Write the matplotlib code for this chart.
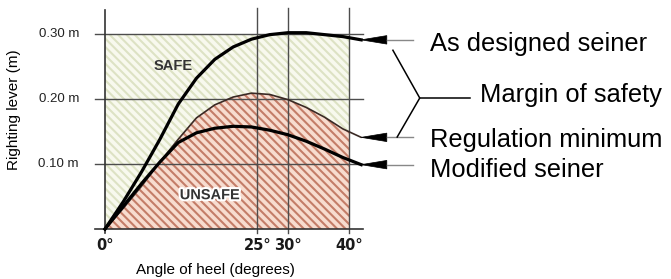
import matplotlib
matplotlib.use('Agg')
import matplotlib.pyplot as plt
import matplotlib.patheffects as pe
from matplotlib.patches import Rectangle, Polygon

plt.rcParams['font.family'] = ['Liberation Sans', 'DejaVu Sans']
plt.rcParams['hatch.linewidth'] = 1.5

# heel angle (degrees) and righting lever (m)
angles = [0, 3, 6, 9, 12, 15, 18, 21, 24, 27, 30, 33, 36, 39, 42]
as_designed = [0, 0.042, 0.088, 0.138, 0.192, 0.232, 0.261, 0.280, 0.292, 0.299, 0.302, 0.302, 0.299, 0.296, 0.291]
regulation = [0, 0.032, 0.066, 0.103, 0.138, 0.171, 0.191, 0.203, 0.209, 0.207, 0.199, 0.187, 0.172, 0.154, 0.141]
modified = [0, 0.035, 0.070, 0.103, 0.133, 0.148, 0.155, 0.158, 0.157, 0.152, 0.145, 0.135, 0.123, 0.110, 0.099]

x_ticks = [0, 25, 30, 40]
x_tick_labels = ['0°', '25°', '30°', '40°']
y_ticks = [0.10, 0.20, 0.30]
y_tick_labels = ['0.10 m', '0.20 m', '0.30 m']
series_labels = ['As designed seiner', 'Regulation minimum', 'Modified seiner']

fig = plt.figure(figsize=(6.71, 2.79), dpi=100)
ax = fig.add_axes([0, 0, 1, 1])
ax.set_xlim(-17.21, 92.79)
ax.set_ylim(-0.0769, 0.3523)
ax.axis('off')

grid_c = '#4d4d4d'

# safe zone (green hatch) and unsafe zone (red hatch)
ax.add_patch(Rectangle((0, 0), 40, 0.30, facecolor='#f8f9ee', edgecolor='#dde2c4',
                       hatch='\\\\\\\\', linewidth=0, zorder=1))
clip = Rectangle((0, 0), 40, 0.4, transform=ax.transData, visible=False)
ax.add_patch(clip)
red = ax.fill_between(angles, 0, regulation, facecolor='#f7dccf', edgecolor='#c47d68',
                      hatch='\\\\\\\\', linewidth=0, zorder=2)
red.set_clip_path(clip)

# grid
for y in y_ticks:
    ax.plot([-1.6, 42.3], [y, y], color=grid_c, lw=1.0, zorder=3)
for x in x_ticks[1:]:
    ax.plot([x, x], [-0.006, 0.34], color=grid_c, lw=1.0, zorder=3)
ax.plot([0, 0], [-0.006, 0.337], color='#333333', lw=1.2, zorder=3)
ax.plot([-1.6, 42.3], [0, 0], color='#333333', lw=1.2, zorder=3)

# curves
ax.plot(angles, regulation, color='#3a2a25', lw=1.2, zorder=4, solid_capstyle='round')
ax.plot(angles, as_designed, color='black', lw=2.3, zorder=5, solid_joinstyle='round')
ax.plot(angles, modified, color='black', lw=2.3, zorder=5, solid_joinstyle='round')

# arrow heads and leaders
for series in (as_designed, regulation, modified):
    y_end = series[-1]
    ax.add_patch(Polygon([(42, y_end), (46.2, y_end + 0.0065), (46.2, y_end - 0.0065)],
                         closed=True, facecolor='black', edgecolor='black', lw=0.5, zorder=6))
    ax.plot([46.2, 50.5], [y_end, y_end], color='#888888', lw=1.0, zorder=6)

# margin of safety bracket
ax.plot([47.2, 51.6, 47.9], [0.275, 0.2015, 0.1415], color='black', lw=1.1, zorder=6)
ax.plot([51.6, 59.8], [0.2015, 0.2015], color='black', lw=1.1, zorder=6)

# right-hand labels
label_y = [0.274, 0.126, 0.080]
for txt, y in zip(series_labels, label_y):
    ax.text(53.3, y, txt, fontsize=18.4, va='baseline', ha='left', color='black')
ax.text(61.5, 0.195, 'Margin of safety', fontsize=18.4, va='baseline', ha='left', color='black')

# zone labels
ax.text(11.1, 0.251, 'SAFE', fontsize=10.5, fontweight='bold', color='#333333',
        ha='center', va='center', zorder=7)
ax.text(17.2, 0.052, 'UNSAFE', fontsize=10.5, fontweight='bold', color='#333333',
        ha='center', va='center', zorder=7,
        path_effects=[pe.withStroke(linewidth=3, foreground='white')])

# tick labels
for x, lab in zip(x_ticks, x_tick_labels):
    ax.text(x, -0.0246, lab, fontsize=10.5, fontweight='heavy', family='DejaVu Sans',
            color='#1a1a1a', ha='center', va='center')
for y, lab in zip(y_ticks, y_tick_labels):
    ax.text(-4.26, y, lab, fontsize=9.5, color='#222222', ha='right', va='center')

ax.text(18.1, -0.063, 'Angle of heel (degrees)', fontsize=11, ha='center', va='center')
ax.text(-14.9, 0.183, 'Righting lever (m)', fontsize=11, ha='center', va='center', rotation=90)

fig.savefig('out.png', dpi=100)
